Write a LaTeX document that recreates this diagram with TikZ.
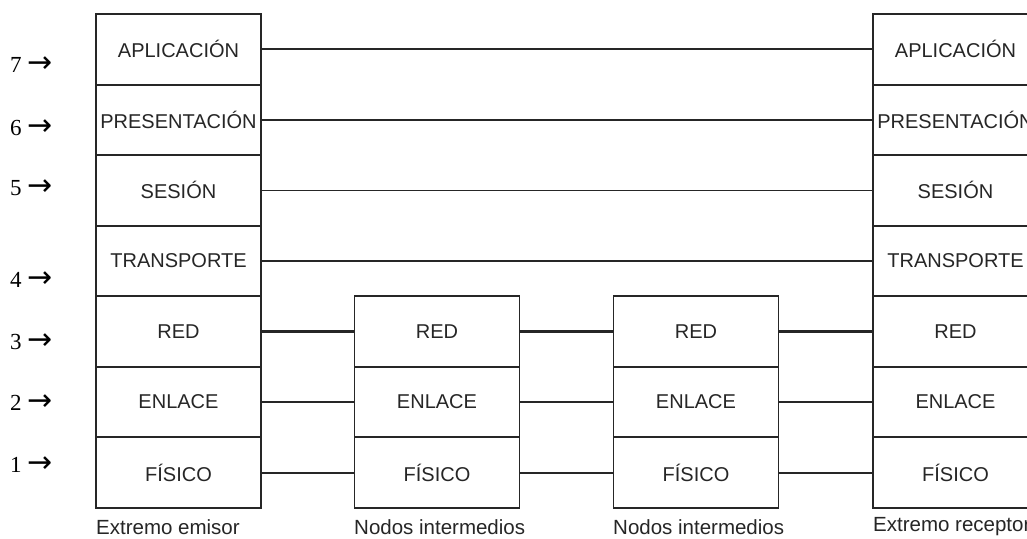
\documentclass[tikz,border=0pt]{standalone}
\usepackage{fontspec}
\setmainfont{Liberation Sans}
\newfontfamily\numfont{Liberation Serif}
\newfontfamily\arrfont{DejaVu Sans}
\definecolor{linec}{gray}{0.15}
\begin{document}
\begin{tikzpicture}[x=1pt,y=-1pt,
  cell/.style={draw=linec, line width=1.8pt, fill=white, minimum width=165pt, minimum height=70.57pt, inner sep=0pt, text=black!85, font=\fontsize{20}{20}\selectfont},
  conn/.style={draw=linec, line width=1.8pt},
  thickconn/.style={draw=linec, line width=2.8pt},
  caption/.style={anchor=west, inner sep=0pt, text=black!85, font=\fontsize{20.5}{20.5}\selectfont},
  num/.style={anchor=west, inner sep=0pt, font=\fontsize{23}{23}\numfont}]
\clip (0,0) rectangle (1027,538);
\fill[white] (0,0) rectangle (1027,538);
% row centres
\def\ySeven{49.3}\def\ySix{119.9}\def\yFive{190.4}\def\yFour{261.0}
\def\yThree{331.6}\def\yTwo{402.1}\def\yOne{472.7}
% left stack
\node[cell] (L7) at (178.5,\ySeven) {APLICACIÓN};
\node[cell] (L6) at (178.5,\ySix) {PRESENTACIÓN};
\node[cell] (L5) at (178.5,\yFive) {SESIÓN};
\node[cell] (L4) at (178.5,\yFour) {TRANSPORTE};
\node[cell] (L3) at (178.5,\yThree) {RED};
\node[cell] (L2) at (178.5,\yTwo) {ENLACE};
\node[cell] (L1) at (178.5,\yOne) {FÍSICO};
% intermediate A
\node[cell] (A3) at (437,\yThree) {RED};
\node[cell] (A2) at (437,\yTwo) {ENLACE};
\node[cell] (A1) at (437,\yOne) {FÍSICO};
% intermediate B
\node[cell] (B3) at (696,\yThree) {RED};
\node[cell] (B2) at (696,\yTwo) {ENLACE};
\node[cell] (B1) at (696,\yOne) {FÍSICO};
% right stack
\node[cell] (R7) at (955.5,\ySeven) {APLICACIÓN};
\node[cell] (R6) at (955.5,\ySix) {PRESENTACIÓN};
\node[cell] (R5) at (955.5,\yFive) {SESIÓN};
\node[cell] (R4) at (955.5,\yFour) {TRANSPORTE};
\node[cell] (R3) at (955.5,\yThree) {RED};
\node[cell] (R2) at (955.5,\yTwo) {ENLACE};
\node[cell] (R1) at (955.5,\yOne) {FÍSICO};
% connectors
\draw[conn] (L7.east) -- (R7.west);
\draw[conn] (L6.east) -- (R6.west);
\draw[conn] (L5.east) -- (R5.west);
\draw[conn] (L4.east) -- (R4.west);
\draw[thickconn] (L3.east) -- (A3.west);
\draw[thickconn] (A3.east) -- (B3.west);
\draw[thickconn] (B3.east) -- (R3.west);
\draw[conn] (L2.east) -- (A2.west);
\draw[conn] (A2.east) -- (B2.west);
\draw[conn] (B2.east) -- (R2.west);
\draw[conn] (L1.east) -- (A1.west);
\draw[conn] (A1.east) -- (B1.west);
\draw[conn] (B1.east) -- (R1.west);
% captions
\node[caption] (cL) at (96,527) {Extremo emisor};
\node[caption] (cA) at (354,527) {Nodos intermedios};
\node[caption] (cB) at (613,527) {Nodos intermedios};
\node[caption] (cR) at (873,527) {Extremo receptor};
% layer numbers
\foreach \n/\y in {7/65,6/128,5/188,4/280,3/342,2/403,1/465}{
  \node[num] (n\n) at (10,\y) {\n\ {\fontsize{30}{30}\arrfont →}};
}
\end{tikzpicture}
\end{document}
